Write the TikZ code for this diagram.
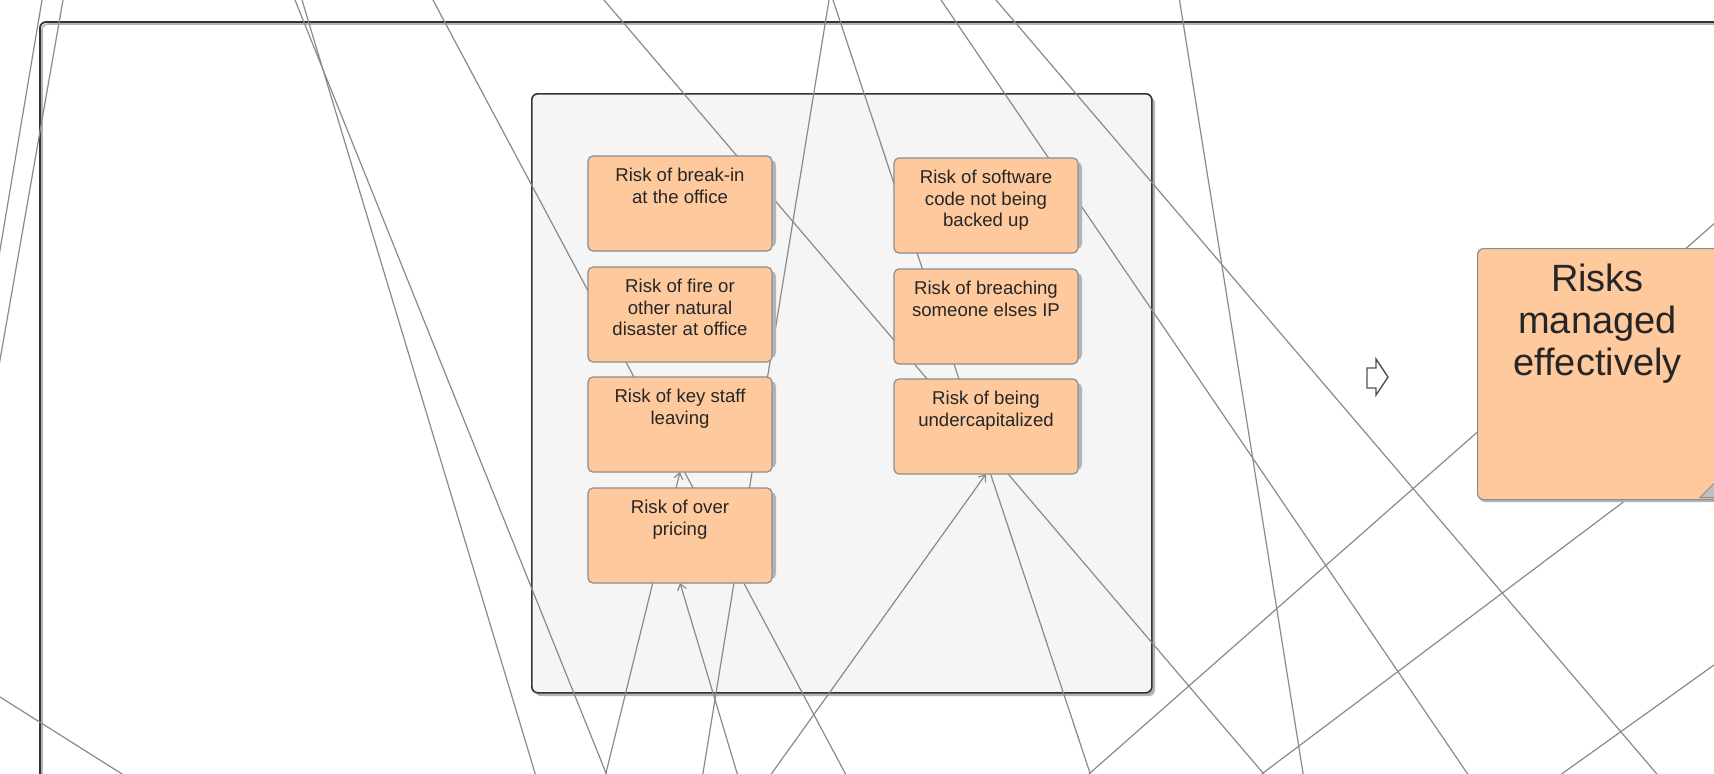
\documentclass[tikz,border=0pt]{standalone}
\usepackage{fontspec}
\setmainfont{Liberation Sans}
\usetikzlibrary{arrows.meta}
\pgfdeclarelayer{back}
\pgfdeclarelayer{mid}
\pgfsetlayers{back,mid,main}
\definecolor{peach}{HTML}{FFC99E}
\definecolor{linegray}{HTML}{8A8A8A}
\definecolor{boxborder}{HTML}{8C8C8C}
\definecolor{shadowgray}{HTML}{B4B4B4}
\definecolor{groupfill}{HTML}{F5F5F5}
\definecolor{darkline}{HTML}{333333}
\definecolor{txt}{HTML}{262626}
\tikzset{
  conn/.style={draw=linegray, line width=0.6pt, shorten <=-3pt, shorten >=-3pt},
  arrowconn/.style={draw=linegray, line width=0.6pt, shorten <=-3pt, -{Straight Barb[length=3pt,width=4.5pt]}},
  riskshape/.style={draw=boxborder, fill=peach, line width=0.6pt, rounded corners=2.5pt, minimum width=92pt, minimum height=47.5pt, inner sep=0pt, outer sep=0pt},
  risktext/.style={font=\fontsize{9.3pt}{10.7pt}\selectfont, text=txt, align=center, inner sep=0pt},
  shadowfill/.style={fill=shadowgray},
}
\newcommand\riskbox[4]{%
  \fill[shadowfill, rounded corners=2.5pt] (#2+4,#3+4) rectangle (#2+188,#3+91);
  \node[riskshape, anchor=north west] (#1) at (#2,#3) {};
  \node[risktext, anchor=north] (#1-text) at ([yshift=-6pt]#1.north) {#4};
}
\begin{document}
\begin{tikzpicture}[x=0.5pt,y=-0.5pt]
\useasboundingbox (0,0) rectangle (1714,773);

\begin{pgfonlayer}{back}
\fill[white] (0,0) rectangle (1714,773);
% outer frame
\draw[shadowgray, line width=0.8pt, rounded corners=3pt] (42,24) rectangle (1900,1000);
\draw[darkline, line width=0.9pt, rounded corners=3pt] (40,22) rectangle (1900,1000);
% group box
\fill[shadowfill, rounded corners=3pt] (535,97) rectangle (1155,696);
\node[draw=darkline, fill=groupfill, line width=0.8pt, rounded corners=3pt, minimum width=310pt, minimum height=299.5pt, anchor=north west, inner sep=0pt] (group) at (531,93) {};
\end{pgfonlayer}

% boxes
\riskbox{breakin}{588}{156}{Risk of break-in\\at the office}
\riskbox{fire}{588}{267}{Risk of fire or\\other natural\\disaster at office}
\riskbox{keystaff}{588}{377}{Risk of key staff\\leaving}
\riskbox{overpricing}{588}{488}{Risk of over\\pricing}
\riskbox{software}{894}{158}{Risk of software\\code not being\\backed up}
\riskbox{breaching}{894}{269}{Risk of breaching\\someone elses IP}
\riskbox{undercap}{894}{379}{Risk of being\\undercapitalized}

% big box
\fill[shadowfill, rounded corners=3pt] (1479,251) rectangle (1722,502);
\node[draw=boxborder, fill=peach, line width=0.6pt, rounded corners=3pt, minimum width=121pt, minimum height=125.5pt, anchor=north west, inner sep=0pt] (managed) at (1477,248) {};
\node[font=\fontsize{19pt}{20.8pt}\selectfont, text=txt, align=center, inner sep=0pt, anchor=north] (managed-text) at (1597.5,264) {Risks\\managed\\effectively};
\filldraw[fill=shadowgray!85, draw=boxborder, line width=0.5pt] (1700,497.5) -- (1719,478.5) -- (1719,497.5) -- cycle;

% block arrow
\draw[fill=white, draw=darkline!85, line width=0.7pt] (1367,368) -- (1376,368) -- (1376,359) -- (1388,377) -- (1376,395) -- (1376,388) -- (1367,388) -- cycle;

% edge coordinates
\coordinate (a1) at (42,0);      \coordinate (a2) at (0,250);
\coordinate (b1) at (63,0);      \coordinate (b2) at (0,360);
\coordinate (c1) at (295,0);     \coordinate (c2) at (606,773);
\coordinate (d1) at (302,0);     \coordinate (d2) at (535,773);
\coordinate (e1) at (433,0);     \coordinate (e2) at (845,773);
\coordinate (f1) at (604,0);     \coordinate (f2) at (1263,773);
\coordinate (g1) at (829,0);     \coordinate (g2) at (703,773);
\coordinate (h1) at (833,0);     \coordinate (h2) at (1090,773);
\coordinate (i1) at (941,0);     \coordinate (i2) at (1467,773);
\coordinate (j1) at (996,0);     \coordinate (j2) at (1656,773);
\coordinate (k1) at (1179.5,0);  \coordinate (k2) at (1303,773);
\coordinate (m1) at (1716,222);
\coordinate (n1) at (1727,424);
\coordinate (o1) at (1714,665);  \coordinate (o2) at (1563,773);
\coordinate (p1) at (0,697);     \coordinate (p2) at (120.5,773);
\coordinate (q1) at (737,773);
\coordinate (s1) at (772,773);

\begin{pgfonlayer}{mid}
\draw[conn] (a1) -- (a2);
\draw[conn] (b1) -- (b2);
\draw[conn] (c1) -- (c2);
\draw[conn] (d1) -- (d2);
\draw[conn] (e1) -- (e2);
\draw[conn] (f1) -- (f2);
\draw[conn] (g1) -- (g2);
\draw[conn] (h1) -- (h2);
\draw[conn] (i1) -- (i2);
\draw[conn] (j1) -- (j2);
\draw[conn] (k1) -- (k2);
\draw[conn] (m1) -- (h2);
\draw[conn] (n1) -- (f2);
\draw[conn] (o1) -- (o2);
\draw[conn] (p1) -- (p2);
\draw[arrowconn] (c2) -- (keystaff.south);
\draw[arrowconn] (q1) -- (overpricing.south);
\draw[arrowconn] (s1) -- (undercap.south);
\end{pgfonlayer}
\end{tikzpicture}
\end{document}
